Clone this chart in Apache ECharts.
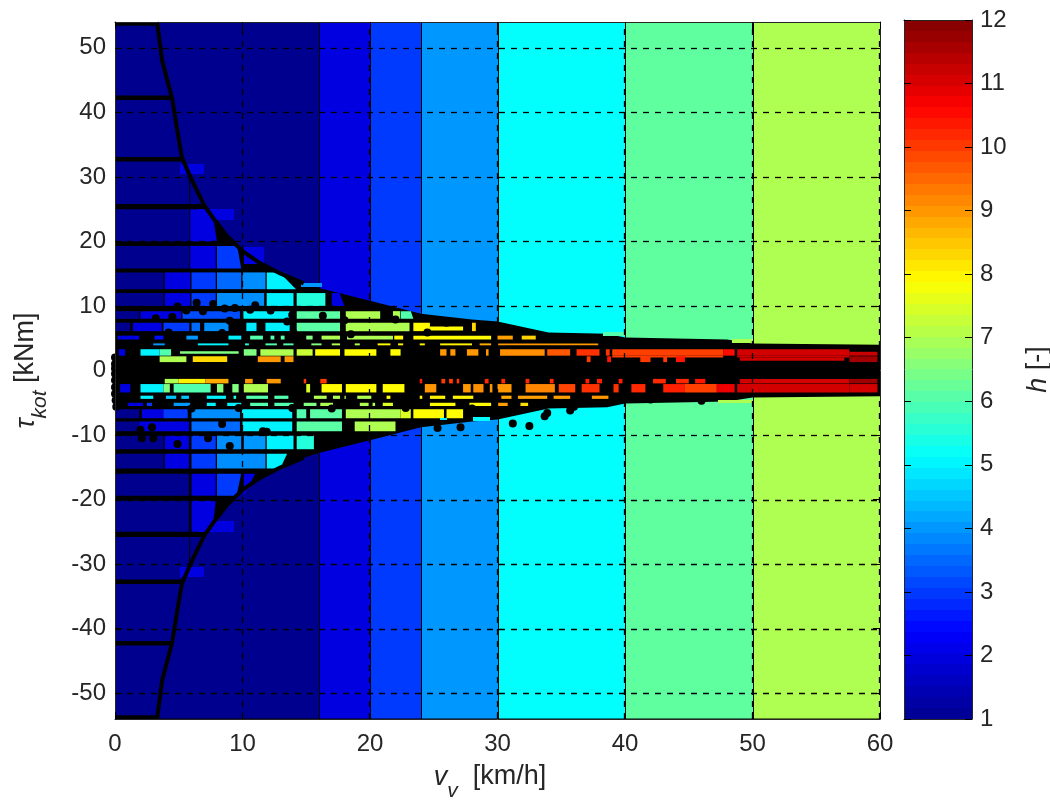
<!DOCTYPE html>
<html><head><meta charset="utf-8">
<style>html,body{margin:0;padding:0;background:#fff}#c{width:1050px;height:800px}</style>
<script src="https://cdn.jsdelivr.net/npm/echarts@6/dist/echarts.min.js"></script></head>
<body><div id="c"></div>
<script>
var xTicks=[0,10,20,30,40,50,60];
var yTicks=[-50,-40,-30,-20,-10,0,10,20,30,40,50];
var hTicks=[1,2,3,4,5,6,7,8,9,10,11,12];
var jet=['#00008f','#0000ff','#0080ff','#00ffff','#80ff80','#ffff00','#ff8000','#ff0000','#800000'];
// outer regions: vStart, vEnd, h
var outerColumns=[[0,16,1],[16,20,2],[20,24,3],[24,30,4],[30,40,5.15],[40,50,6.15],[50,60,7]];
// measured boundary of the operating region: v, |tau|
var envelope=[[3.3,54],[3.7,48],[4.5,42],[4.9,37],[5.25,33],[5.8,30.5],[6.4,28],[7,25.6],[7.7,23.6],[8.8,20.8],[10,18.5],[11.4,16.6],[13,15],[14.8,13.5],[16,12.8],[20,10.8],[24,8.8],[28,7.9],[30,7.6],[34,5.9],[38.6,5.7],[40,5.1],[48,4.8],[50,4.2],[60,4]];
// rows: tauA, tauB, then cells [v0, v1, h]
var upperRows=[
[53.4,42.6,[[0.08,16,1]]],
[41.9,33.1,[[0.08,16,1]]],
[32.4,25.8,[[0.08,5.83,1],[5.9,16,1]]],
[25,20,[[0.08,5.83,1],[5.9,8,2]]],
[19.3,15.8,[[0.08,5.83,1],[5.9,7.9,2],[8,9.9,3]]],
[15.2,12.6,[[0.08,3.8,1],[3.9,5.9,2],[6,7.9,3],[8,9.9,3.5],[10,11.8,3.9],[11.9,14.2,5]]],
[12,10,[[0.08,3.8,1],[3.9,5.9,2],[6,7.9,3],[8,11.7,3.9],[11.9,14,5],[14.25,16.5,5.5],[17,18,2]]],
[9.2,8,[[0.08,1.9,1],[2,5.2,2],[5.3,9.8,3.2],[10.07,13.7,5],[14.25,17.65,6.1],[18.1,20.8,7],[21.8,22.35,7],[22.4,23.4,6]]],
[7.4,6.1,[[0.08,1.2,1],[1.4,3.66,2],[3.8,5.83,3],[6,6.67,3.5],[7,8.9,3.9],[10.3,11.1,4.9],[11.8,13.7,5],[14.25,17.65,6.1],[18.1,23.1,7],[23.4,24.7,7.9],[28,28.3,8.3]]],
[6.8,6.2,[[24.7,27.3,7.9]]],
[5.4,4.8,[[0.2,1.9,2],[3.1,3.8,2.5],[5.6,6.5,4],[8.9,9.9,5],[10.6,11.6,6],[12.2,12.5,6],[13,13.3,6],[15,15.5,6.5],[16.2,17.65,7],[18.2,21.8,7],[21.9,22.6,7.9],[23.4,29.5,7.9],[30,31.2,8.9],[31.9,33,8.4]]],
[4.2,3.9,[[3,3.9,4],[6.5,8.9,5],[10.2,10.5,5.5],[11.8,12.7,6],[13.2,14,6],[15.4,16.2,6.5],[17,17.65,7],[18.8,19.2,7],[20.6,21.6,7.9],[22.2,22.6,8],[23.9,24.3,8],[25.5,28,8],[28.6,29.5,8.8],[30,37.9,9]]],
[3.3,2.3,[[0.3,0.8,2],[2,3.5,5],[3.5,4.4,6],[10.1,11.1,6.5],[11.4,14,7],[14.25,15.5,7.3],[15.7,17.65,7.9],[18,20.5,7.9],[21.6,22.4,7.9],[25.5,26,9],[26.3,26.7,9],[27.6,28.5,9],[29.1,29.3,9],[30.2,33.7,9.1],[33.9,35.7,9.7],[36.2,38,10.1],[38.5,38.8,10.1],[39,47.7,9.95],[47.7,48.6,10.5],[48.8,57.6,11.1]]],
[3,2.6,[[5.1,9.7,6.5]]],
[2.9,2.3,[[57.6,59.8,11.2]]],
[2.3,2,[[39,47.7,9.95],[48.8,57.6,11.1]]],
[2,1.5,[[49,57.2,11.1]]],
[2.2,1.3,[[3.5,5.6,7],[6.1,8.8,8.3],[11.2,13,9],[13.3,14,9],[37,37.3,10],[38.6,38.9,10.4],[41.2,42,10],[43,43.3,10],[44,44.7,10.4],[57.6,59.8,11.6]]]
];
var lowerRows=[
[-1.3,-2,[[3.9,5,7],[5,7.1,8],[7.1,8.9,8.8],[10.2,10.8,9],[11.9,13,9],[14.8,15,10],[16.1,16.6,10],[23.9,24.1,10.3],[25.6,25.9,10],[26.2,26.5,10],[26.8,27,10],[29,29.3,10.2],[30.3,30.6,10.2],[32.2,32.5,10.2],[34.1,34.4,10.2],[36.9,37.2,10.3],[37.8,38.2,10.3],[39.5,39.8,10.3],[42.2,43.2,10.2],[44,45,10.2],[45.5,46.3,10.4],[49,57.6,11.1],[57.6,59.8,11.7]]],
[-2.1,-3.4,[[0.4,1.2,2],[2,3.8,5],[3.8,4.3,6.5],[4.6,7.5,6],[8,8.5,6.5],[9.2,9.7,6.5],[10.1,12,7],[15,15.3,7.5],[16.2,17.8,7.9],[18.1,20.5,7.9],[21,22.7,7.9],[24.3,25.2,9],[27.3,27.9,9],[28.1,28.9,9.1],[29.4,29.6,9],[30,31.1,9],[32.2,34.5,9.2],[34.8,36.1,9.9],[36.6,38,10.1],[39.1,39.5,10.1],[40.5,41.6,10.2],[43,44.7,10.3],[44.7,47.2,9.95],[47.2,48.6,10.8],[48.8,57.6,11.1],[57.6,59.8,11.1]]],
[-3.9,-4.4,[[2,3,5],[4,4.8,4.5],[5.2,5.8,4.5],[7.2,8.7,5],[9.3,9.5,5.5],[10.3,12,6],[12.5,13.6,6],[15.6,16.6,7],[17.1,17.65,7],[18,18.1,7],[19,20.1,7],[21.3,21.6,7.9],[23.9,24.1,8],[24.7,25.9,8],[26.5,28.1,8],[30.3,31.1,8.8],[31.6,33.9,8.9],[34.4,35.7,8.9],[37.4,38.7,9]]],
[-5,-5.5,[[1,2.2,2],[2.5,2.9,3],[4.6,5.9,4],[7.2,7.9,5],[8.8,9.9,5],[10.6,12,6],[12.5,14,6],[14.8,15.8,6.5],[16.1,17.1,7],[19.2,19.9,7],[20.2,20.4,7],[21,21.8,7.5],[24.7,26.7,7.9],[27.8,29.5,7.9],[30,30.8,8.9],[31.8,32.4,8.2]]],
[-6,-7.4,[[0.08,1.9,1],[2.1,3.8,2],[3.8,5.7,3],[6,9.8,3.9],[9.95,13.9,5],[14.25,15,6],[15.3,17.8,6.1],[18.1,22.4,7],[22.4,23.2,7.5],[23.4,25.8,7.9],[26,27.3,7.9],[38.3,40,6]]],
[-7.9,-9.4,[[0.08,1.9,1],[1.9,5.8,2],[6,9.8,3.5],[10,13.9,5],[14.25,17.8,6.1],[18.8,22,7]]],
[-10.1,-12.2,[[0.08,3.8,1],[3.9,5.8,2],[6,7.9,3],[8,9.9,3.9],[10.1,11.8,4],[11.9,14,5],[14.25,15.6,5.5]]],
[-12.9,-15.2,[[0.08,3.8,1],[3.9,5.8,2],[6,7.9,3],[8,11.8,3.9],[11.9,13.5,5]]],
[-16,-19.4,[[0.08,5.8,1],[6,7.9,2],[8,9.9,3],[10.1,11,2]]],
[-20.2,-25,[[0.08,5.8,1],[6,7.9,2]]],
[-25.8,-32.4,[[0.08,5.83,1],[5.9,16,1]]],
[-33.1,-41.9,[[0.08,16,1]]],
[-42.6,-53.4,[[0.08,16,1]]]
];
// isolated cells that cross the boundary: v0, v1, tauA, tauB, h
var blobs=[[5.1,7,32,30.4,2],[6.6,9.3,25,23.3,2],[10.1,11.7,19.2,16.5,2],[5.1,7,-30.4,-32,2],[6.6,9.3,-23.3,-25,2],[14.6,16.2,13.6,13,4],[25.5,26,-7.3,-7.6,5],[28.1,29.4,-7.2,-7.8,5.1],[38.3,40,5.9,5.3,6],[48.4,50,4.9,4.3,7],[47.3,50,-4.5,-5,7]];
// individual measured samples: v, tau
var samples=[[0,2],[0,1],[0,0.3],[0,-0.5],[0,-1.5],[0,-2.6],[0,-3.6],[0.05,-4.6],[0.1,-5.6],[0.3,1.6],
[6.4,10.5],[7.7,10.3],[5.6,9.3],[6.9,9.2],[8.6,9.6],[4.5,8.3],[3.2,8.1],[9.4,9.7],[10.6,9.4],[12.2,9.3],[13.9,8.6],[16.3,8.5],[4.9,9.9],[11,10.1],
[2.9,-8.8],[2.1,-10.5],[3,-10.5],[4.9,-11.4],[7.3,-10.5],[9,-11.7],[11.6,-9.4],[8.4,-8.3],[2,-9.2],[11.9,-9.5],
[25.3,-8.9],[27.1,-8.8],[31.2,-8.2],[32.5,-8.6],[33.7,-7.1],[33.9,-6.6],[35.7,-6.2],
[9,7.7],[13.5,7.6],[18,7.8],[22,7.9],[26,7.4],[4.2,5.9],[8.4,5.8],[14,5.8],[18.5,5.6],[24.5,5.9],
[6,-5.9],[9.7,-5.8],[13.9,-5.8],[17,-5.9],[22.8,-5.8],[28,-5.9],[36,-5.6],[42,-4.5],[46,-4.7]];
var xRange=[0,60], yRange=[-54,54], hRange=[1,12];

function xAt(t){t=Math.abs(t);var e=envelope;
  if(t>=e[0][1])return e[0][0]; if(t<=e[e.length-1][1])return e[e.length-1][0];
  for(var i=1;i<e.length;i++){ if(t>=e[i][1]){var f=(t-e[i][1])/(e[i-1][1]-e[i][1]);return e[i][0]+f*(e[i-1][0]-e[i][0]);} }
  return 60;}
var cells=[];
upperRows.concat(lowerRows).forEach(function(r){r[2].forEach(function(c){cells.push([c[0],c[1],r[0],r[1],c[2]]);});});
var columnData=outerColumns.map(function(c){return [c[0],c[1],54,-54,c[2]];});
var blobData=blobs.map(function(b){return [b[0],b[1],b[2],b[3],b[4]];});
var bandData=[];
for(var k=0;k<64;k++){var a=hRange[0]+k*(hRange[1]-hRange[0])/64,b=a+(hRange[1]-hRange[0])/64;bandData.push([0,1,a,b,(a+b)/2]);}
var upperLine=envelope.map(function(p){return [p[0],p[1]];}).filter(function(p){return p[0]<=15;});
var lowerLine=envelope.map(function(p){return [p[0],-p[1]];}).filter(function(p){return p[0]<=15;});

function rectItem(stroke){return function(params,api){
  var p0=api.coord([api.value(0),api.value(2)]),p1=api.coord([api.value(1),api.value(3)]);
  var x=Math.round(p0[0]),y=Math.round(p0[1]);
  return {type:'rect',shape:{x:stroke?x+.5:x,y:y,width:Math.round(p1[0])-x,height:Math.round(p1[1])-y},
    style:{fill:api.visual('color'),stroke:stroke||null,lineWidth:stroke?1:0}};};}
function clampedCell(params,api){
  var v0=api.value(0),v1=api.value(1),a=api.value(2),b=api.value(3);
  var ra=Math.max(v0,Math.min(v1,xAt(a))),rb=Math.max(v0,Math.min(v1,xAt(b)));
  var mid=[];
  envelope.forEach(function(e){[1,-1].forEach(function(s){var t=s*e[1];
    if(t<Math.max(a,b)&&t>Math.min(a,b)&&e[0]>v0&&e[0]<v1)mid.push([e[0],t]);});});
  mid.sort(function(x,y){return a>b?y[1]-x[1]:x[1]-y[1];});
  var pts=[[v0,a],[ra,a]].concat(mid).concat([[rb,b],[v0,b]]);
  return {type:'polygon',shape:{points:pts.map(function(p){return api.coord(p);})},style:{fill:api.visual('color')}};
}
function blackRegion(params,api){
  var up=[[0,54]].concat(envelope),lo=envelope.slice().reverse().map(function(p){return [p[0],-p[1]];}).concat([[0,-54]]);
  return {type:'polygon',shape:{points:up.concat(lo).map(function(p){return api.coord(p);})},style:{fill:'#000'}};
}
function gridLines(params,api){
  var kids=[];
  yTicks.forEach(function(t){var a=api.coord([0,t]),b=api.coord([60,t]);
    kids.push({type:'line',shape:{x1:a[0],y1:Math.round(a[1])+.5,x2:b[0],y2:Math.round(b[1])+.5},style:{stroke:'#000',lineWidth:1.3,lineDash:[6,6]}});});
  xTicks.slice(1).forEach(function(t){var a=api.coord([t,-54]),b=api.coord([t,54]);
    kids.push({type:'line',shape:{x1:Math.round(a[0])-.5,y1:a[1],x2:Math.round(b[0])-.5,y2:b[1]},style:{stroke:'#000',lineWidth:1.3,lineDash:[6,6]}});});
  return {type:'group',children:kids};
}
var tc='#262626',ff='"Liberation Sans",Arial,sans-serif',fs=24,nfs=27;
var lineS={show:true,onZero:false,lineStyle:{color:'#262626',width:1}};
var nameRich={i:{fontStyle:'italic',fontSize:nfs,color:tc,fontFamily:ff,lineHeight:50,verticalAlign:'middle'},
  s:{fontStyle:'italic',fontSize:21,color:tc,fontFamily:ff,lineHeight:24,verticalAlign:'bottom'},
  n:{fontSize:nfs,color:tc,fontFamily:ff,lineHeight:50,verticalAlign:'middle'}};
var chart=echarts.init(document.getElementById('c'),null,{renderer:'canvas'});
chart.setOption({
 animation:false,backgroundColor:'#fff',textStyle:{fontFamily:ff},
 grid:[{left:115,top:22,width:765,height:697,outerBoundsMode:'none'},{left:904,top:20,width:68,height:699,outerBoundsMode:'none'}],
 visualMap:{show:false,type:'continuous',min:hRange[0],max:hRange[1],dimension:4,seriesIndex:[0,2,3,6],inRange:{color:jet}},
 xAxis:[
  {gridIndex:0,type:'value',min:xRange[0],max:xRange[1],interval:10,position:'bottom',z:10,splitLine:{show:false},axisLine:lineS,axisTick:{show:true,inside:true,length:7,lineStyle:{color:'#000'}},
   axisLabel:{color:tc,fontSize:fs,fontFamily:ff,margin:13},
   name:'{i|v}{s|v}{n|  [km/h]  }',nameLocation:'middle',nameGap:33,nameTextStyle:{rich:nameRich}},
  {gridIndex:0,type:'value',min:xRange[0],max:xRange[1],interval:10,position:'top',z:10,splitLine:{show:false},axisLine:lineS,axisTick:{show:true,inside:true,length:7,lineStyle:{color:'#000'}},axisLabel:{show:false}},
  {gridIndex:1,type:'value',min:0,max:1,position:'bottom',z:10,splitLine:{show:false},axisLine:lineS,axisTick:{show:false},axisLabel:{show:false}},
  {gridIndex:1,type:'value',min:0,max:1,position:'top',z:10,splitLine:{show:false},axisLine:lineS,axisTick:{show:false},axisLabel:{show:false}}
 ],
 yAxis:[
  {gridIndex:0,type:'value',min:yRange[0],max:yRange[1],position:'left',z:10,splitLine:{show:false},axisLine:lineS,
   axisTick:{show:true,inside:true,length:7,customValues:yTicks,lineStyle:{color:'#000'}},
   axisLabel:{color:tc,fontSize:fs,fontFamily:ff,margin:9,customValues:yTicks},
   name:'{i|τ}{s|kot}{n| [kNm]}',nameLocation:'middle',nameGap:64,nameRotate:90,nameTextStyle:{rich:nameRich}},
  {gridIndex:0,type:'value',min:yRange[0],max:yRange[1],position:'right',z:10,splitLine:{show:false},axisLine:lineS,
   axisTick:{show:true,inside:true,length:7,customValues:yTicks,lineStyle:{color:'#000'}},axisLabel:{show:false,customValues:yTicks}},
  {gridIndex:1,type:'value',min:hRange[0],max:hRange[1],interval:1,position:'left',z:10,splitLine:{show:false},axisLine:lineS,axisTick:{show:true,inside:true,length:7,lineStyle:{color:'#000'}},axisLabel:{show:false}},
  {gridIndex:1,type:'value',min:hRange[0],max:hRange[1],interval:1,position:'right',z:10,splitLine:{show:false},axisLine:lineS,axisTick:{show:true,inside:true,length:7,lineStyle:{color:'#000'}},
   axisLabel:{color:tc,fontSize:fs,fontFamily:ff,margin:8,formatter:function(v){return hTicks.indexOf(v)>=0?String(v):'';}},
   name:'{i|h}{n| [-]}',nameLocation:'middle',nameGap:41,nameRotate:90,nameTextStyle:{rich:nameRich}}
 ],
 series:[
  {type:'custom',name:'outer',xAxisIndex:0,yAxisIndex:0,z:1,clip:true,silent:true,data:columnData,renderItem:rectItem('#000')},
  {type:'custom',name:'region',xAxisIndex:0,yAxisIndex:0,z:2,clip:true,silent:true,data:[[0,0,0,0,1]],renderItem:blackRegion},
  {type:'custom',name:'cells',xAxisIndex:0,yAxisIndex:0,z:3,clip:true,silent:true,data:cells,renderItem:clampedCell},
  {type:'custom',name:'blobs',xAxisIndex:0,yAxisIndex:0,z:3,clip:true,silent:true,data:blobData,renderItem:rectItem()},
  {type:'line',name:'upper',xAxisIndex:0,yAxisIndex:0,z:4,symbol:'none',smooth:false,lineStyle:{color:'#000',width:4},data:upperLine,clip:true},
  {type:'line',name:'lower',xAxisIndex:0,yAxisIndex:0,z:4,symbol:'none',smooth:false,lineStyle:{color:'#000',width:4},data:lowerLine,clip:true},
  {type:'custom',name:'bar',xAxisIndex:2,yAxisIndex:2,z:3,clip:true,silent:true,data:bandData,renderItem:rectItem()},
  {type:'scatter',name:'samples',xAxisIndex:0,yAxisIndex:0,z:5,symbol:'circle',symbolSize:8,clip:false,itemStyle:{color:'#000',opacity:1},data:samples},
  {type:'custom',name:'gridlines',xAxisIndex:0,yAxisIndex:0,z:6,clip:true,silent:true,data:[[0,0,0,0,1]],renderItem:gridLines}
 ]
});
</script></body></html>
